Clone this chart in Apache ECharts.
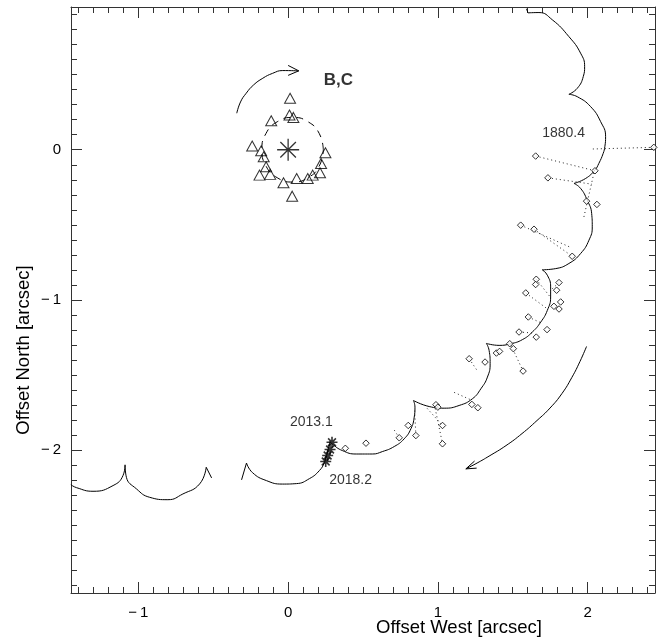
<!DOCTYPE html>
<html><head><meta charset="utf-8">
<script src="https://cdn.jsdelivr.net/npm/echarts@6/dist/echarts.min.js"></script>
<style>html,body{margin:0;padding:0;background:#fff}#c{width:660px;height:638px}</style>
</head><body><div id="c"></div>
<script>
// ---------- data (arcsec) ----------
const xExtent = [-1.45, 2.45];
const yExtent = [-2.95, 0.95];
const xTickLabels = [-1, 0, 1, 2];
const yTickLabels = [-2, -1, 0];

// predicted orbit of A around BC (wobbly path), split at cusps
const orbitArc1 = [[1.592,0.938],[1.602,0.911]];
const orbitArc2 = [[1.602,0.911],[1.675,0.913],[1.764,0.865],[1.875,0.753],[1.953,0.643],[1.980,0.553],[1.971,0.487],[1.931,0.409],[1.875,0.369]];
const orbitArc3 = [[1.875,0.369],[1.931,0.353],[2.020,0.287],[2.087,0.187],[2.120,0.087],[2.115,0.020],[2.104,-0.024],[2.075,-0.091],[2.049,-0.135],[1.987,-0.191],[1.909,-0.224]];
const orbitArc4 = [[1.909,-0.224],[1.953,-0.257],[1.997,-0.335],[2.027,-0.424],[2.031,-0.513],[2.009,-0.602],[1.953,-0.691],[1.875,-0.757],[1.787,-0.791],[1.697,-0.799]];
const orbitArc5 = [[1.697,-0.799],[1.731,-0.835],[1.753,-0.913],[1.753,-0.980],[1.731,-1.069],[1.687,-1.147],[1.631,-1.213],[1.564,-1.264],[1.487,-1.291],[1.409,-1.302],[1.324,-1.289]];
const orbitArc6 = [[1.324,-1.289],[1.342,-1.335],[1.349,-1.424],[1.331,-1.513],[1.287,-1.591],[1.231,-1.657],[1.142,-1.702],[1.042,-1.720],[0.942,-1.709],[0.837,-1.669]];
const orbitArc7 = [[0.837,-1.669],[0.847,-1.713],[0.842,-1.780],[0.820,-1.857],[0.775,-1.924],[0.709,-1.975],[0.629,-2.009],[0.562,-2.025],[0.455,-2.025],[0.362,-2.002],[0.295,-1.959],[0.279,-1.942]];
const orbitArc8 = [[0.279,-1.942],[0.262,-2.015],[0.242,-2.082],[0.209,-2.135],[0.142,-2.189],[0.055,-2.222],[-0.038,-2.225],[-0.145,-2.202],[-0.238,-2.149],[-0.278,-2.085]];
const orbitArc9 = [[-0.278,-2.085],[-0.311,-2.197]];
const orbitArc10 = [[-0.511,-2.184],[-0.547,-2.113]];
const orbitArc11 = [[-0.547,-2.113],[-0.591,-2.224],[-0.703,-2.291],[-0.803,-2.329],[-0.925,-2.313],[-1.013,-2.257],[-1.080,-2.180],[-1.089,-2.097]];
const orbitArc12 = [[-1.089,-2.097],[-1.103,-2.169],[-1.169,-2.235],[-1.303,-2.273],[-1.413,-2.249],[-1.451,-2.229]];
const orbitArcs = [orbitArc1,orbitArc2,orbitArc3,orbitArc4,orbitArc5,orbitArc6,orbitArc7,orbitArc8,orbitArc9,orbitArc10,orbitArc11,orbitArc12];

// historical measurements of A (diamonds)
const observationsA = [
 [2.442,0.016],[1.653,-0.042],[2.049,-0.140],[1.735,-0.187],[1.993,-0.342],[2.062,-0.364],
 [1.553,-0.502],[1.642,-0.529],[1.897,-0.709],[1.657,-0.862],[1.653,-0.897],[1.809,-0.884],
 [1.793,-0.935],[1.587,-0.953],[1.820,-1.013],[1.775,-1.042],[1.809,-1.060],[1.604,-1.113],
 [1.729,-1.197],[1.542,-1.213],[1.657,-1.247],[1.480,-1.291],[1.504,-1.324],[1.391,-1.353],
 [1.412,-1.342],[1.569,-1.473],[1.315,-1.413],[1.209,-1.391],[0.987,-1.697],[1.000,-1.713],
 [1.227,-1.695],[1.267,-1.717],[1.031,-1.835],[1.031,-1.957],[0.802,-1.835],[0.853,-1.902],
 [0.742,-1.917],[0.382,-1.987],[0.520,-1.953]
];
// residual connectors (dotted)
const residualFrom = [
 [2.442,0.016],[1.653,-0.042],[1.735,-0.187],[2.042,-0.155],[1.553,-0.502],[1.642,-0.529],
 [1.657,-0.862],[1.587,-0.953],[1.604,-1.113],[1.542,-1.213],[1.809,-0.884],[1.489,-1.302],
 [1.209,-1.391],[0.929,-1.722],[0.982,-1.722],[1.109,-1.615],[0.853,-1.902],[0.742,-1.917]
];
const residualTo = [
 [2.035,0.005],[2.049,-0.140],[2.029,-0.229],[1.973,-0.457],[1.880,-0.647],[1.897,-0.709],
 [1.752,-0.982],[1.735,-1.062],[1.682,-1.149],[1.640,-1.220],[1.753,-0.935],[1.569,-1.473],
 [1.262,-1.469],[1.031,-1.835],[1.031,-1.957],[1.215,-1.662],[0.845,-1.735],[0.702,-1.855]
];

// B,C relative positions (triangles)
const pointsBC = [
 [0.013,0.343],[0.009,0.231],[0.035,0.215],[-0.113,0.193],[-0.240,0.025],[-0.180,-0.007],
 [-0.163,-0.047],[-0.147,-0.113],[-0.191,-0.169],[-0.120,-0.164],[-0.031,-0.220],[0.057,-0.191],
 [0.131,-0.191],[0.164,-0.169],[0.213,-0.153],[0.220,-0.091],[0.249,-0.020],[0.027,-0.309]
];
// BC orbit (dashed)
const orbitBC = [
 [0.235,0],[0.208,0.108],[0.133,0.186],[0.030,0.215],[-0.073,0.186],[-0.148,0.108],[-0.175,0],
 [-0.148,-0.108],[-0.073,-0.186],[0.030,-0.215],[0.133,-0.186],[0.208,-0.108],[0.235,0]
];
const primaryPos = [[0,0]];
const recentPositions = [[0.293,-1.947],[0.280,-1.995],[0.264,-2.035],[0.251,-2.075]];

// motion arrows
const arrowTop = [[-0.343,0.243],[-0.318,0.318],[-0.280,0.376],[-0.231,0.431],[-0.169,0.476],[-0.105,0.508],[-0.036,0.527],[0.071,0.525]];
const arrowTopHead = [[0.000,0.561],[0.071,0.525],[0.000,0.495]];
const arrowBottom = [[1.993,-1.309],[1.949,-1.409],[1.895,-1.515],[1.829,-1.622],[1.749,-1.719],[1.662,-1.802],[1.562,-1.889],[1.455,-1.969],[1.342,-2.039],[1.262,-2.085],[1.187,-2.124]];
const arrowBottomHead = [[1.245,-2.072],[1.187,-2.124],[1.259,-2.119]];

// annotations
const labelTexts = ['B,C','1880.4','2013.1','2018.2'];
const labelPos = [[0.235,0.465],[1.693,0.109],[0.009,-1.813],[0.271,-2.202]];

// ---------- chart ----------
const FONT = 'Liberation Sans, Arial, sans-serif';
const AX = '#333';
function fmtTick(list){
  return function(v){
    const r = Math.round(v*1000)/1000;
    if (!list.includes(r)) return '';
    return r < 0 ? '\u2212\u2009' + Math.abs(r) : String(r);
  };
}
function xAxis(pos, major){
  return {type:'value', min:xExtent[0], max:xExtent[1], position:pos, splitNumber: major?4:39,
    axisLine:{show:major, onZero:false, lineStyle:{color:AX,width:1}},
    axisTick:{show:true, inside:true, length: major?11:6, lineStyle:{color:AX,width:1}},
    axisLabel:{show: major && pos==='bottom', margin:12, color:'#000', fontFamily:FONT, fontSize:15, formatter:fmtTick(xTickLabels)},
    splitLine:{show:false},
    name: (major && pos==='bottom') ? 'Offset West [arcsec]' : '',
    nameLocation:'middle', nameGap:25, nameMoveOverlap:false,
    nameTextStyle:{fontFamily:FONT, fontSize:18.5, color:'#000', padding:[0,0,0,192]}
  };
}
function yAxis(pos, major){
  return {type:'value', min:yExtent[0], max:yExtent[1], position:pos, splitNumber: major?4:39,
    axisLine:{show:major, onZero:false, lineStyle:{color:AX,width:1}},
    axisTick:{show:true, inside:true, length: major?11:6, lineStyle:{color:AX,width:1}},
    axisLabel:{show: major && pos==='left', margin:10, color:'#000', fontFamily:FONT, fontSize:15, formatter:fmtTick(yTickLabels)},
    splitLine:{show:false},
    name: (major && pos==='left') ? 'Offset North [arcsec]' : '',
    nameLocation:'middle', nameGap:38, nameMoveOverlap:false,
    nameTextStyle:{fontFamily:FONT, fontSize:18.5, color:'#000', padding:[0,100,0,0]}
  };
}
const asteriskPath = 'path://M0,10L20,10M10,0L10,20M2.93,2.93L17.07,17.07M17.07,2.93L2.93,17.07';

const series = [];
orbitArcs.forEach(function(arc){
  series.push({type:'line', data:arc, smooth:arc.length>2, showSymbol:false, symbol:'none',
    lineStyle:{color:'#000', width:1}, silent:true, z:2});
});
series.push({type:'lines', coordinateSystem:'cartesian2d', xAxisIndex:0, yAxisIndex:0,
  data: residualFrom.map(function(p,i){return {coords:[p, residualTo[i]]};}),
  lineStyle:{color:'#222', width:1, type:[1,3], opacity:1, curveness:0}, silent:true, z:3});
series.push({type:'scatter', data:observationsA, symbol:'diamond', symbolSize:6.5,
  itemStyle:{color:'#fff', borderColor:'#000', borderWidth:1}, z:4});
series.push({type:'line', data:orbitBC, smooth:true, showSymbol:false, symbol:'none',
  lineStyle:{color:'#000', width:1, type:[7,6]}, silent:true, z:2});
series.push({type:'scatter', data:pointsBC, symbol:'triangle', symbolSize:[11,10],
  itemStyle:{color:'rgba(0,0,0,0)', borderColor:'#000', borderWidth:1}, z:4});
series.push({type:'scatter', data:primaryPos, symbol:asteriskPath, symbolSize:22,
  itemStyle:{color:'none', borderColor:'#000', borderWidth:1.3}, z:4});
series.push({type:'scatter', data:recentPositions, symbol:asteriskPath, symbolSize:11,
  itemStyle:{color:'none', borderColor:'#000', borderWidth:1.6}, z:5});
[arrowTop, arrowTopHead, arrowBottom, arrowBottomHead].forEach(function(a, i){
  series.push({type:'line', data:a, smooth:(i%2===0), showSymbol:false, symbol:'none',
    lineStyle:{color:'#000', width:1}, silent:true, z:2});
});
series.push({type:'scatter', symbolSize:1, itemStyle:{color:'rgba(0,0,0,0)'},
  data: labelTexts.map(function(t,i){
    return {name:t, value:labelPos[i], label:{show:true, position:'right', distance:0, formatter:'{b}',
      fontFamily:FONT, color:'#000', fontSize: t==='B,C'?17:14, fontWeight: t==='B,C'?'bold':'normal'}};
  }), z:6});

const chart = echarts.init(document.getElementById('c'), null, {renderer:'canvas'});
chart.setOption({
  animation:false,
  backgroundColor:'#fff',
  grid:{left:71, right:5, top:7, bottom:45, containLabel:false, outerBoundsMode:'none'},
  xAxis:[xAxis('bottom',true), xAxis('bottom',false), xAxis('top',true), xAxis('top',false)],
  yAxis:[yAxis('left',true), yAxis('left',false), yAxis('right',true), yAxis('right',false)],
  series: series
});
</script></body></html>
